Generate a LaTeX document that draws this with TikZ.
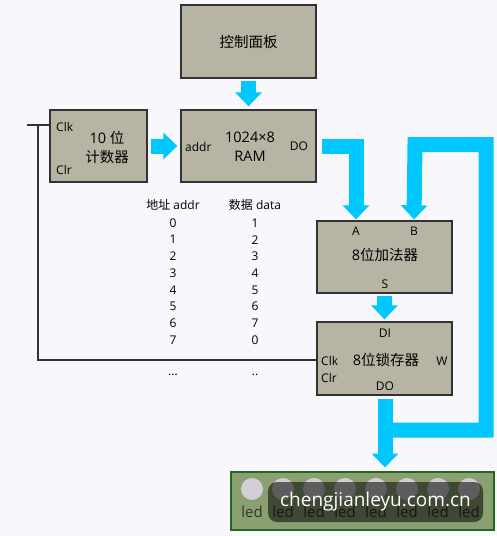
\documentclass[tikz,border=0pt]{standalone}
\usepackage{fontspec}
\setmainfont{Open Sans}
\newfontfamily\cjk{Noto Sans CJK SC}
\usetikzlibrary{arrows.meta}

\definecolor{pagebg}{RGB}{248,248,252}
\definecolor{boxfill}{RGB}{183,180,164}
\definecolor{boxline}{RGB}{50,50,50}
\definecolor{buscol}{RGB}{0,200,255}
\definecolor{ledbg}{RGB}{138,160,112}
\definecolor{ledline}{RGB}{30,105,30}
\definecolor{ledoff}{RGB}{210,206,212}

\tikzset{
  unit/.style={draw=boxline,fill=boxfill,line width=1.3pt,inner sep=0pt},
  title/.style={font=\fontsize{14.5}{19}\selectfont,align=center,text=black},
  port/.style={font=\fontsize{12}{14}\selectfont,inner sep=0pt,text=black},
  cell/.style={font=\fontsize{12}{14}\selectfont,inner sep=0pt,text=black},
  bus/.style={draw=buscol,line width=15pt,line join=miter,
    -{Triangle[width=26pt,length=14pt]}},
  wire/.style={draw=black!80,line width=1.2pt},
}

\begin{document}
\begin{tikzpicture}[x=1pt,y=-1pt]

      \fill[pagebg] (0,0) rectangle (497,536);
      \useasboundingbox (0,0) rectangle (497,536);

      % blocks
      \begin{scope}[every node/.style={unit}]
        \node[minimum width=135pt,minimum height=73pt] (panel) at (248.5,41.5) {};
        \node[minimum width=97pt,minimum height=72pt]  (cnt)   at (98.5,146) {};
        \node[minimum width=135pt,minimum height=72pt] (ram)   at (248.5,146) {};
        \node[minimum width=135pt,minimum height=72pt] (add)   at (384.5,257) {};
        \node[minimum width=135pt,minimum height=73pt] (latch) at (384.5,358.5) {};
        \node[draw=ledline,fill=ledbg,line width=2pt,
              minimum width=263pt,minimum height=58pt] (ledbar) at (362,500.5) {};
      \end{scope}

      % block titles
      \begin{scope}[every node/.style={title}]
        \node (panelT) at (248.5,42) {\cjk 控制面板};
        \node (cntT)   at (107,147)  {10 {\cjk 位}\\{\cjk 计数器}};
        \node (ramT)   at (250,147)  {1024×8\\RAM};
        \node (addT)   at (385,255)  {8{\cjk 位加法器}};
        \node (latchT) at (386,360)  {8{\cjk 位锁存器}};
      \end{scope}

      % port labels
      \begin{scope}[every node/.style={port}]
        \node[anchor=west] (cntClk)   at (56,127)  {Clk};
        \node[anchor=west] (cntClr)   at (56,170)  {Clr};
        \node[anchor=west] (ramAddr)  at (185,147) {addr};
        \node (ramDO)    at (299,146) {DO};
        \node (addA)     at (356,231) {A};
        \node (addB)     at (414,231) {B};
        \node (addS)     at (385,284) {S};
        \node (latchDI)  at (385,333) {DI};
        \node[anchor=west] (latchClk) at (321,361) {Clk};
        \node[anchor=west] (latchClr) at (321,378) {Clr};
        \node (latchW)   at (442,361) {W};
        \node (latchDO)  at (385,386) {DO};
      \end{scope}

      % memory contents
      \node[cell] (hAddr) at (173,205) {{\cjk 地址} addr};
      \node[cell] (hData) at (255,205) {{\cjk 数据} data};
      \foreach \a/\d [count=\r from 0] in {0/1,1/2,2/3,3/4,4/5,5/6,6/7,7/0} {
        \node[cell] (addr\r) at (173,223+16.7*\r) {\a};
        \node[cell] (data\r) at (255,223+16.7*\r) {\d};
      }
      \node[cell] (addrMore) at (173,375) {...};
      \node[cell] (dataMore) at (255,375) {..};

      % clock line
      \coordinate (clkIn) at (27,125);
      \coordinate (clkTap) at (38,125);
      \draw[wire] (clkIn) -- (clkIn -| cnt.west);
      \draw[wire] (clkTap) |- (latch.west |- 0,360);

      % data buses
      \coordinate (loopLow)  at (385.5,430);
      \coordinate (loopEdge) at (486,430);
      \coordinate (loopTop)  at (415,144.5);
      \begin{scope}[every path/.style={bus}]
        \draw ([yshift=-2pt]panel.south) -- ([yshift=3pt]ram.north);
        \draw ([xshift=3pt]cnt.east) -- ([xshift=-3pt]ram.west);
        \draw ([xshift=5pt]ram.east |- ramDO) -| ([yshift=1pt]add.north -| addA);
        \draw ([yshift=-2pt]add.south) -- ([yshift=2pt]latch.north);
        \draw ([yshift=-3pt]latch.south -| latchDO) -- ([yshift=3pt]ledbar.north -| latchDO);
        \draw (loopLow) -- (loopEdge) |- (loopTop) -- ([yshift=1pt]add.north -| addB);
      \end{scope}

      % leds
      \foreach \i in {0,...,7} {
        \node[circle,fill=ledoff,minimum size=22pt,inner sep=0pt] (led\i) at (252+31*\i,489) {};
        \node[font=\fontsize{15}{18}\selectfont,text=black!80,inner sep=0pt] (ledT\i) at (252+31*\i,512) {led};
      }

      % watermark
      \node[fill=black,fill opacity=0.55,text opacity=1,text=white,rounded corners=9pt,
            minimum width=215pt,minimum height=40pt,inner sep=0pt,
            font=\fontsize{19}{22}\selectfont] (wmark) at (375.5,502) {chengjianleyu.com.cn};

    \end{tikzpicture}
\end{document}
